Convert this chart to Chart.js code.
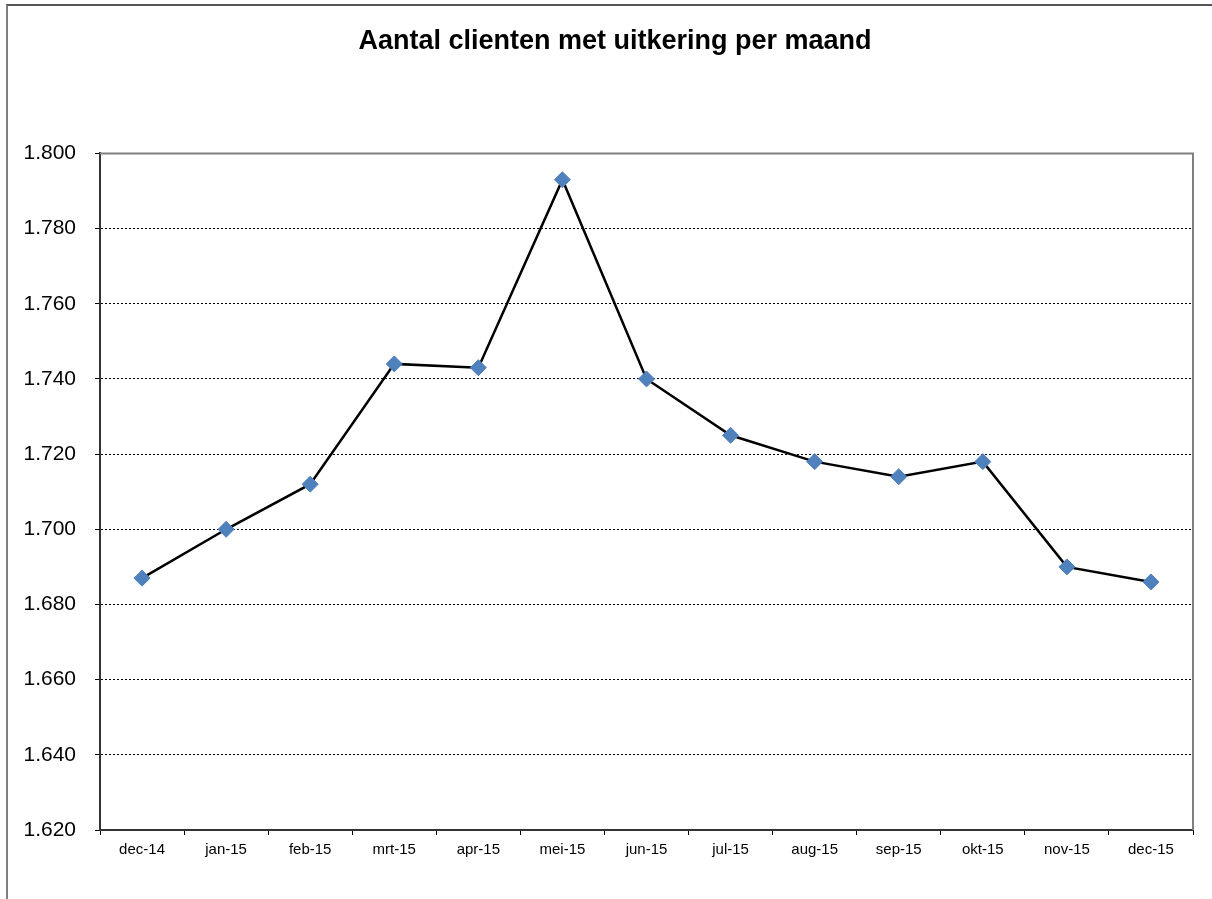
<!DOCTYPE html>
<html>
<head>
<meta charset="utf-8">
<script src="https://cdn.jsdelivr.net/npm/chart.js@4"></script>
<style>
  html, body { margin: 0; padding: 0; background: #fff; }
  #wrap { position: relative; width: 1212px; height: 899px; overflow: hidden; }
  #frame { position: absolute; left: 6px; top: 4px; width: 1300px; height: 1000px;
           border-left: 2px solid #7f7f7f; border-top: 2px solid #555; }
  #c { position: absolute; left: 0; top: 0; }
</style>
</head>
<body>
<div id="wrap">
  <div id="frame"></div>
  <canvas id="c" width="1212" height="899"></canvas>
</div>
<script>
const months = ["dec-14","jan-15","feb-15","mrt-15","apr-15","mei-15","jun-15","jul-15","aug-15","sep-15","okt-15","nov-15","dec-15"];
const clients = [1687, 1700, 1712, 1744, 1743, 1793, 1740, 1725, 1718, 1714, 1718, 1690, 1686];
const yMin = 1620, yMax = 1800, yStep = 20;

const fmt = (v) => Number(v).toLocaleString("nl-NL"); // 1.800

// top/right edge of the plot box (lighter grey, like the original)
const plotFrame = {
  id: "plotFrame",
  beforeDatasetsDraw(chart) {
    const { ctx, chartArea: a } = chart;
    ctx.save();
    ctx.strokeStyle = "#808080";
    ctx.lineWidth = 2;
    ctx.beginPath();
    ctx.moveTo(a.left, a.top);
    ctx.lineTo(a.right, a.top);
    ctx.lineTo(a.right, a.bottom);
    ctx.stroke();
    ctx.restore();
  },
};

new Chart(document.getElementById("c"), {
  type: "line",
  data: {
    labels: months,
    datasets: [{
      data: clients,
      yAxisID: "y",
      borderColor: "#000",
      borderWidth: 2.5,
      tension: 0,
      pointStyle: "rectRot",
      pointRadius: 8,
      pointHoverRadius: 8,
      pointBackgroundColor: "#4f81bd",
      pointBorderColor: "#4f81bd",
      pointBorderWidth: 1,
    }],
  },
  options: {
    responsive: false,
    animation: false,
    layout: { padding: { left: 18, right: 0, bottom: 0, top: 0 } },
    scales: {
      x: {
        offset: true,
        afterFit: (s) => { s.height = 69; },
        grid: { display: true, drawOnChartArea: false, offset: true, tickLength: 5, color: "#000", lineWidth: 1 },
        border: { color: "#333", width: 2 },
        ticks: { color: "#000", padding: 6, font: { family: "Liberation Sans, Arial", size: 15 }, maxRotation: 0 },
      },
      y: {
        min: yMin,
        max: yMax,
        afterFit: (s) => { s.width = 82; },
        ticks: { stepSize: yStep, color: "#000", padding: 19, callback: (v) => fmt(v),
                 font: { family: "Liberation Sans, Arial", size: 21 } },
        grid: { color: "#000", lineWidth: 1, tickLength: 5,
                tickBorderDash: [], tickColor: "#000" },
        border: { color: "#333", width: 2, dash: [2, 2] },
      },
      // empty spacer on the right so the title stays centred over the whole frame
      gap: {
        position: "right",
        min: yMin,
        max: yMax,
        afterFit: (s) => { s.width = 19; },
        ticks: { display: false },
        grid: { display: false },
        border: { display: false },
      },
    },
    plugins: {
      legend: { display: false },
      tooltip: { enabled: false },
      title: {
        display: true,
        text: "Aantal clienten met uitkering per maand",
        color: "#000",
        font: { family: "Liberation Sans, Arial", size: 27, weight: "bold" },
        padding: { top: 25, bottom: 96 },
      },
    },
  },
  plugins: [plotFrame],
});
</script>
</body>
</html>
